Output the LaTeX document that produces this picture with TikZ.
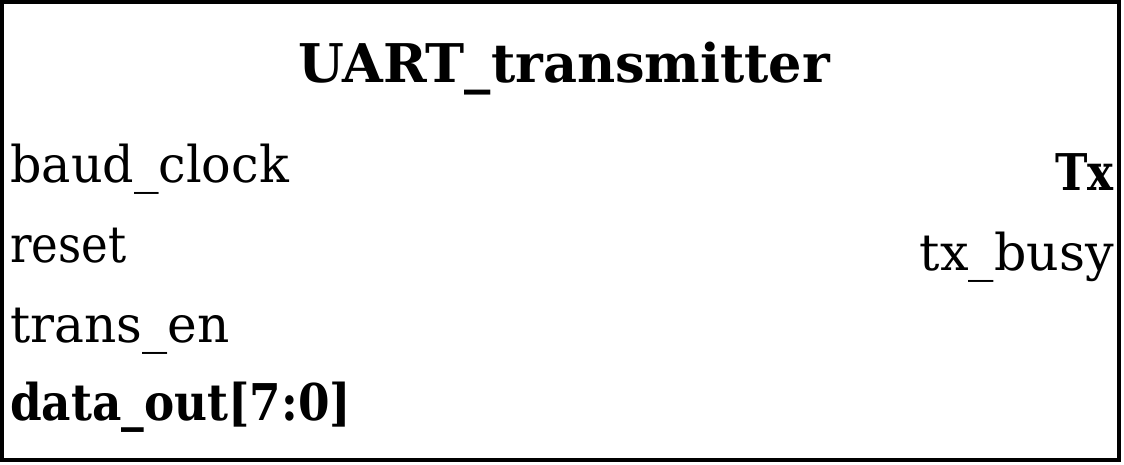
\documentclass[tikz,border=0pt]{standalone}
\usepackage{fontspec}
\setmainfont{DejaVu Serif}
\begin{document}
\begin{tikzpicture}[x=0.75pt,y=-0.75pt,
  lbl/.style={inner sep=0pt,font=\fontsize{38}{38}\selectfont},
  blbl/.style={inner sep=0pt,font=\fontsize{38}{38}\selectfont\bfseries},
  ttl/.style={inner sep=0pt,font=\fontsize{40}{40}\selectfont\bfseries}]
\useasboundingbox[fill=white] (0,0) rectangle (1124,464);
\draw[line width=2.8pt] (1.9,1.9) rectangle (1119.1,460.1);
\node[ttl,anchor=base] (title) at (564,82) {\scalebox{0.985}[1]{UART\_transmitter}};
\node[lbl,anchor=base west] (baud) at (10,182) {\scalebox{0.97}[1]{baud\_clock}};
\node[lbl,anchor=base west] (reset) at (10,262) {\scalebox{0.89}[1]{reset}};
\node[lbl,anchor=base west] (trans) at (10,342) {\scalebox{0.99}[1]{trans\_en}};
\node[blbl,anchor=base west] (data) at (10,420) {\scalebox{0.895}[1]{data\_out[7:0]}};
\node[blbl,anchor=base east] (tx) at (1114,190) {\scalebox{0.86}[1]{Tx}};
\node[lbl,anchor=base east] (busy) at (1114,270) {tx\_busy};
\end{tikzpicture}
\end{document}
